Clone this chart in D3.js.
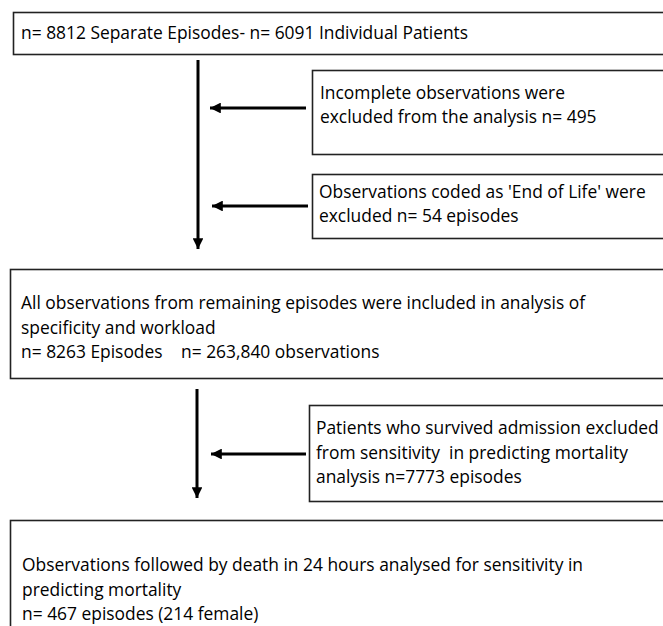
<!DOCTYPE html>
<html>
<head>
<meta charset="utf-8">
<script src="https://cdn.jsdelivr.net/npm/d3@7"></script>
<style>
  body { margin: 0; background: #fff; }
  svg text { font-family: "Open Sans", "Noto Sans", sans-serif; font-size: 17.4px; fill: #000; white-space: pre; }
</style>
</head>
<body>
<svg id="chart" width="663" height="626"></svg>
<script>
// flowchart text, one array per box
const boxTop = ["n= 8812 Separate Episodes- n= 6091 Individual Patients"];
const boxIncomplete = ["Incomplete observations were", "excluded from the analysis n= 495"];
const boxEndOfLife = ["Observations coded as 'End of Life' were", "excluded n= 54 episodes"];
const boxSpecificity = [
  "All observations from remaining episodes were included in analysis of",
  "specificity and workload",
  ["n= 8263 Episodes", "n= 263,840 observations"]
];
const boxSurvived = [
  "Patients who survived admission excluded",
  "from sensitivity  in predicting mortality",
  "analysis n=7773 episodes"
];
const boxMortality = [
  "Observations followed by death in 24 hours analysed for sensitivity in",
  "predicting mortality",
  "n= 467 episodes (214 female)"
];

// layout
const boxes = [
  {lines: boxTop, x: 13, y: 12, h: 42, tx: 21, base: [39]},
  {lines: boxIncomplete, x: 312, y: 70, h: 84, tx: 320, base: [99, 123]},
  {lines: boxEndOfLife, x: 312, y: 174, h: 64, tx: 319, base: [198, 222]},
  {lines: boxSpecificity, x: 10, y: 269, h: 109, tx: 21, base: [309, 334, 358], gapX: 181},
  {lines: boxSurvived, x: 309, y: 405, h: 96, tx: 316, base: [434, 459, 483]},
  {lines: boxMortality, x: 10, y: 520, h: 200, tx: 22, base: [571, 596, 620]}
];
const arrows = [
  {x1: 198, y1: 60, x2: 198, y2: 249},
  {x1: 306, y1: 108, x2: 210, y2: 108},
  {x1: 308, y1: 206, x2: 212, y2: 206},
  {x1: 197, y1: 389, x2: 197, y2: 498},
  {x1: 306, y1: 454, x2: 211, y2: 454}
];

const svg = d3.select('#chart');

svg.append('defs').append('marker')
  .attr('id', 'head')
  .attr('viewBox', '0 0 10 10')
  .attr('refX', 10).attr('refY', 5)
  .attr('markerWidth', 3.8).attr('markerHeight', 3.6)
  .attr('markerUnits', 'strokeWidth')
  .attr('orient', 'auto')
  .append('path')
  .attr('d', 'M0,0L10,5L0,10Z')
  .attr('fill', '#000');

const g = svg.selectAll('g.box')
  .data(boxes)
  .join('g')
  .attr('class', 'box');

g.append('rect')
  .attr('x', d => d.x + 0.5)
  .attr('y', d => d.y + 0.5)
  .attr('width', 800)
  .attr('height', d => d.h)
  .attr('fill', 'none')
  .attr('stroke', '#222')
  .attr('stroke-width', 1.6);

g.each(function(d) {
  const sel = d3.select(this);
  d.lines.forEach((line, i) => {
    if (Array.isArray(line)) {
      const t = sel.append('text').attr('y', d.base[i]);
      t.append('tspan').attr('x', d.tx).text(line[0]);
      t.append('tspan').attr('x', d.gapX).text(line[1]);
    } else {
      sel.append('text').attr('x', d.tx).attr('y', d.base[i]).text(line);
    }
  });
});

svg.selectAll('line.arrow')
  .data(arrows)
  .join('line')
  .attr('class', 'arrow')
  .attr('x1', d => d.x1).attr('y1', d => d.y1)
  .attr('x2', d => d.x2).attr('y2', d => d.y2)
  .attr('stroke', '#000')
  .attr('stroke-width', 3)
  .attr('marker-end', 'url(#head)');
</script>
</body>
</html>
